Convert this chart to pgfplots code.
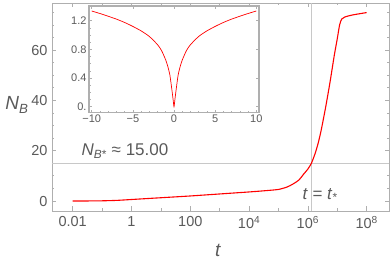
\documentclass[border=0pt]{standalone}
\usepackage{pgfplots}
\pgfplotsset{compat=1.18}
\usepackage{fontspec}
\setmainfont{Liberation Sans}
\definecolor{tickgray}{RGB}{90,90,90}
\definecolor{framegray}{RGB}{175,175,175}
\definecolor{refgray}{RGB}{200,200,200}
\begin{document}
\begin{tikzpicture}[x=1pt,y=1pt]
\begin{axis}[
  name=main,
  at={(0,0)}, anchor=south west,
  scale only axis, width=337pt, height=208pt,
  xmode=log, log basis x=10,
  xmin=0.001977, xmax=5.75e8,
  ymin=-3.97, ymax=78.7,
  xtick={0.01,1,100,1e4,1e6,1e8},
  xticklabels={0.01,1,100,10\textsuperscript{4},10\textsuperscript{6},10\textsuperscript{8}},
  minor xtick={0.1,10,1000,1e5,1e7},
  ytick={0,20,40,60},
  yticklabels={0,20,40,60},
  minor ytick={5,10,15,25,30,35,45,50,55,65,70,75},
  tick align=inside, major tick length=4.5pt, minor tick length=2.5pt,
  axis line style={framegray, line width=0.9pt},
  every tick/.style={framegray, line width=0.7pt},
  tick label style={tickgray, font=\fontsize{14.5}{15}\selectfont},
  xticklabel style={yshift=-2pt},
  yticklabel style={xshift=-1pt},
  clip=false,
]
\addplot[refgray, line width=1.4pt] coordinates {(0.001977,15) (5.75e8,15)};
\addplot[refgray, line width=1.4pt] coordinates {(1.3e6,-3.97) (1.3e6,78.7)};
\addplot[red, line width=1.1pt, smooth, tension=0.4] table {
0.01 0
0.0316 0.02
0.1 0.08
0.316 0.25
1 0.6
3.16 0.95
10 1.3
31.6 1.65
100 2.0
316 2.4
1000 2.8
3162 3.2
10000 3.6
31623 4.05
100000 4.6
199526 5.6
316228 6.8
501187 8.4
707946 10.6
1000000 12.7
1318257 15
1778279 19
2238721 23
2818383 28
3981072 37
5623413 47
7943282 58
10000000 64.5
12022644 70
14125375 72.3
17782794 73.1
31622777 73.9
100000000 74.9
};
\node[tickgray, font=\fontsize{17}{17}\selectfont] at (axis cs:0.6,19.9) {\textit{N}\textsubscript{\textit{B}*} ≈ 15.00};
\node[tickgray, font=\fontsize{17}{17}\selectfont] at (axis cs:2.6e6,2.4) {\textit{t} = \textit{t}\textsubscript{*}};
\coordinate (insetpos) at (rel axis cs:0.1098,0.4726);
\end{axis}
\node[tickgray, font=\fontsize{19}{19}\selectfont] at (166,-39) {\textit{t}};
\node[tickgray, font=\fontsize{19}{19}\selectfont] at (-35,106) {\textit{N}\textsubscript{\textit{B}}};
\begin{axis}[
  at={(insetpos)}, anchor=south west,
  scale only axis, width=170pt, height=106.7pt,
  xmin=-10.33, xmax=10.33, ymin=-0.084, ymax=1.405,
  axis background/.style={fill=white},
  xtick={-10,-5,0,5,10},
  xticklabels={−10,−5,0,5,10},
  minor x tick num=4,
  ytick={0,0.4,0.8,1.2},
  yticklabels={0.,0.4,0.8,1.2},
  minor y tick num=3,
  tick align=inside, major tick length=3pt, minor tick length=1.5pt,
  axis line style={framegray, line width=1.1pt},
  every tick/.style={framegray, line width=0.6pt},
  tick label style={tickgray, font=\fontsize{11}{11}\selectfont},
  xticklabel style={yshift=1pt},
  yticklabel style={xshift=1pt},
]
\addplot[red, line width=0.7pt, smooth, tension=0.4] table {
-10 1.335
-9 1.30
-8 1.262
-7 1.222
-6 1.175
-5 1.12
-4 1.058
-3 0.98
-2 0.865
-1.5 0.78
-1 0.65
-0.75 0.56
-0.5 0.44
-0.25 0.23
-0.1 0.09
0 0
0.1 0.09
0.25 0.23
0.5 0.44
0.75 0.56
1 0.65
1.5 0.78
2 0.865
3 0.98
4 1.058
5 1.12
6 1.175
7 1.222
8 1.262
9 1.30
10 1.335
};
\end{axis}
\pgfresetboundingbox
\path[use as bounding box] (-52,-53) rectangle (338,211);
\end{tikzpicture}
\end{document}
